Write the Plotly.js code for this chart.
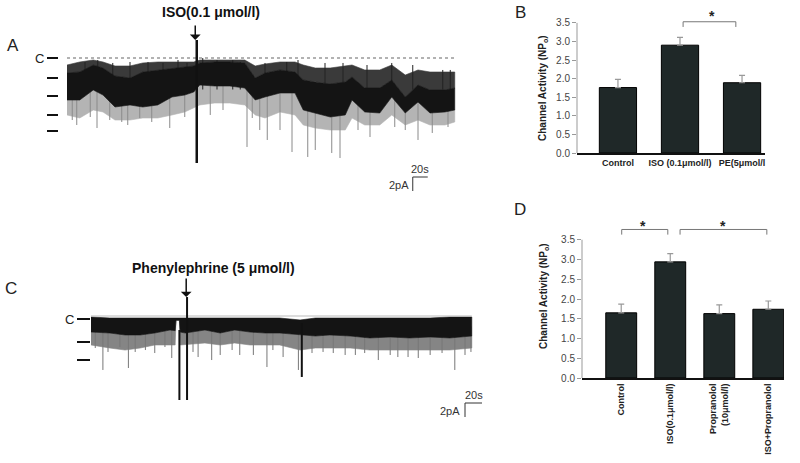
<!DOCTYPE html>
<html><head><meta charset="utf-8">
<script src="https://cdn.plot.ly/plotly-3.0.1.min.js"></script>
<style>html,body{margin:0;padding:0;background:#fff}#chart{width:800px;height:463px}</style>
</head><body><div id="chart"></div>
<script>
// ---------- Panel B data ----------
const bCats = ['Control', 'ISO (0.1μmol/l)', 'PE(5μmol/l'];
const bVals = [1.76, 2.90, 1.89];
const bErr  = [0.22, 0.21, 0.20];
// ---------- Panel D data ----------
const dCats = ['Control', 'ISO(0.1μmol/l)', 'Propranolol<br>(10μmol/l)', 'ISO+Propranolol'];
const dVals = [1.65, 2.94, 1.63, 1.74];
const dErr  = [0.22, 0.21, 0.22, 0.21];
const yTicks = [0, 0.5, 1.0, 1.5, 2.0, 2.5, 3.0, 3.5];
const yTickText = ['0.0','0.5','1.0','1.5','2.0','2.5','3.0','3.5'];

// ---------- Panel A recording (time s, current pA) ----------
const aT       = [0,17,35,48,64,84,101,121,140,157,169,177,197,217,237,251,264,284,304,315,331,351,371,380,397,417,433,451,468,484,504,517];
const aCoreTop = [-2.14,-2.0,-1.0,-1.43,-2.57,-2.86,-2.0,-1.71,-1.43,-1.29,-1.14,-0.71,-0.57,-0.57,-0.71,-2.86,-2.14,-1.71,-2.0,-3.14,-3.43,-3.71,-3.43,-2.71,-4.29,-4.29,-3.14,-5.57,-3.86,-4.57,-4.57,-4.29];
const aCoreBot = [-6.0,-6.0,-4.57,-5.29,-7.0,-6.71,-7.0,-6.71,-5.57,-5.29,-4.86,-3.86,-4.0,-4.0,-4.29,-6.0,-5.57,-5.0,-5.0,-7.43,-7.86,-8.43,-8.14,-6.0,-7.71,-7.86,-5.57,-7.86,-6.29,-7.86,-7.71,-7.43];
const aOutTop  = [-1.0,-0.57,-0.29,-0.57,-1.14,-1.14,-0.71,-0.57,-0.57,-0.57,-0.57,-0.29,-0.29,-0.29,-0.29,-1.14,-0.86,-0.57,-0.57,-1.0,-1.43,-1.43,-1.14,-1.0,-1.71,-1.71,-1.0,-2.43,-1.71,-2.0,-2.0,-2.0];
const aOutBot  = [-8.14,-8.57,-7.43,-7.71,-8.86,-8.86,-8.57,-8.57,-8.14,-7.71,-7.14,-6.71,-6.43,-6.43,-6.71,-8.14,-8.57,-7.71,-8.14,-9.57,-10.0,-10.29,-10.29,-8.57,-9.57,-9.57,-8.14,-9.57,-8.86,-9.57,-9.57,-9.14];
const aUpT   = [24,41,61,84,108,128,148,160,181,200,221,231,264,293,308,344,368,400,433,461,501,511];
const aUpI   = [-0.57,-0.29,-0.71,-0.57,-0.57,-0.71,-0.29,-0.71,0,-0.29,-0.29,-0.57,-0.71,-0.57,-0.29,-0.71,-0.71,-1.0,-0.71,-1.0,-1.71,-1.71];
const aDownT = [7,13,31,40,57,73,81,97,113,137,157,191,208,240,247,257,267,284,300,321,331,353,364,388,404,437,451,468,487,508];
const aDownI = [-8.86,-9.57,-8.43,-10.0,-8.86,-9.14,-9.57,-8.57,-9.14,-10.0,-8.43,-8.14,-7.43,-12.71,-8.57,-10.29,-11.71,-10.29,-13.43,-14.14,-13.14,-13.57,-14.29,-10.29,-11.29,-9.86,-10.29,-11.71,-10.71,-9.86];
const aEvent = {t: 173, top: 2.57, bottom: -15.0};
const aLevels = [0, -2.86, -5.43, -8.14, -10.43];
const aLevelText = ['C', '', '', '', ''];
const aDuration = 520;

// ---------- Panel C recording ----------
const cT       = [0,22,40,58,75,93,99,100,104,105,111,134,152,169,187,205,222,246,264,281,305,328,352,375,399,422,448];
const cCoreTop = [-0.14,-0.29,-0.29,-0.29,-0.29,-0.29,-0.29,-0.29,-0.29,-0.29,-0.29,-0.29,-0.29,-0.29,-0.29,-0.29,-0.29,-0.57,-0.29,-0.29,-0.29,-0.29,-0.29,-0.29,-0.29,-0.14,-0.14];
const cCoreBot = [-2.29,-2.43,-2.71,-2.71,-2.43,-2.0,-2.1,-0.6,-0.6,-2.3,-2.43,-2.0,-2.43,-2.0,-2.29,-2.43,-2.43,-2.71,-2.86,-2.71,-2.86,-3.14,-3.0,-3.14,-3.0,-3.14,-2.86];
const cOutBot  = [-4.14,-4.57,-4.86,-4.57,-4.14,-4.14,-4.14,-0.6,-0.6,-4.14,-4.14,-3.86,-4.14,-3.86,-4.14,-4.14,-4.14,-4.86,-4.57,-4.57,-4.57,-4.86,-4.86,-4.86,-4.86,-4.86,-4.57];
const cDownT = [5,14,20,34,44,52,64,75,87,95,120,126,142,152,166,175,191,207,214,226,244,260,273,285,299,311,322,338,352,361,373,385,399,413,428,440,447];
const cDownI = [-4.57,-7.71,-5.14,-4.43,-7.43,-5.14,-4.86,-5.29,-4.43,-6.0,-5.14,-5.86,-6.29,-5.57,-4.86,-5.57,-5.57,-7.29,-4.86,-5.86,-7.71,-5.29,-5.14,-5.29,-5.57,-5.57,-5.29,-6.29,-5.57,-5.86,-5.86,-6.0,-5.57,-5.29,-7.71,-5.57,-5.14];
const cBigT   = [104, 113, 248];
const cBigTop = [-2.0, 2.71, -1.0];
const cBigBot = [-12.0, -12.0, -8.71];
const cLevels = [-0.43, -3.71, -6.29];
const cLevelText = ['C', '', ''];
const cDuration = 448;

// scale bars
const scaleT = 20;   // s
const scaleI = 2;    // pA

// ---------- helpers ----------
const W = 800, H = 463;
const fx = p => p / W;
const fy = p => 1 - p / H;
const FONT = 'Arial, "Liberation Sans", Helvetica, sans-serif';

function band(t, top, bot) {
  return {x: t.concat(t.slice().reverse()), y: top.concat(bot.slice().reverse())};
}
function spikes(t, ends, start) {
  const x = [], y = [];
  t.forEach((v, i) => { x.push(v, v, null); y.push(start, ends[i], null); });
  return {x, y};
}
function spikes2(t, tops, bots) {
  const x = [], y = [];
  t.forEach((v, i) => { x.push(v, v, null); y.push(tops[i], bots[i], null); });
  return {x, y};
}
function fillBand(b, color, xa, ya) {
  return {type:'scatter', mode:'lines', x:b.x, y:b.y, fill:'toself', fillcolor:color, line:{width:0.6, color:color}, xaxis:xa, yaxis:ya, hoverinfo:'none'};
}

const traces = [];
// Panel B bars
traces.push({
  type: 'bar', x: [0,1,2], y: bVals, width: 0.6, xaxis: 'x', yaxis: 'y',
  marker: {color: '#1f2828', line: {color: '#000', width: 1}},
  error_y: {type: 'data', symmetric: false, array: bErr, arrayminus: bErr.map(() => 0), color: '#999', thickness: 1.2, width: 3},
  hoverinfo: 'none'
});
// Panel D bars
traces.push({
  type: 'bar', x: [0,1,2,3], y: dVals, width: 0.63, xaxis: 'x2', yaxis: 'y2',
  marker: {color: '#1f2828', line: {color: '#000', width: 1}},
  error_y: {type: 'data', symmetric: false, array: dErr, arrayminus: dErr.map(() => 0), color: '#999', thickness: 1.2, width: 3},
  hoverinfo: 'none'
});

// Panel A recording
traces.push(fillBand(band(aT, aCoreBot, aOutBot), '#b4b4b4', 'x3', 'y3'));
const aDn = spikes(aDownT, aDownI, -3.5);
traces.push({type:'scatter', mode:'lines', x:aDn.x, y:aDn.y, line:{color:'#8a8a8a', width:1}, xaxis:'x3', yaxis:'y3', hoverinfo:'none'});
traces.push(fillBand(band(aT, aOutTop, aCoreTop), '#3a3a3a', 'x3', 'y3'));
const aUp = spikes(aUpT, aUpI, -4.5);
traces.push({type:'scatter', mode:'lines', x:aUp.x, y:aUp.y, line:{color:'#222', width:1}, xaxis:'x3', yaxis:'y3', hoverinfo:'none'});
traces.push(fillBand(band(aT, aCoreTop, aCoreBot), '#141414', 'x3', 'y3'));
traces.push({type:'scatter', mode:'lines', x:[0, aDuration], y:[0, 0], line:{color:'#999', width:1.4, dash:'dot'}, xaxis:'x3', yaxis:'y3', hoverinfo:'none'});
traces.push({type:'scatter', mode:'lines', x:[aEvent.t, aEvent.t], y:[aEvent.top, aEvent.bottom], line:{color:'#111', width:2.5}, xaxis:'x3', yaxis:'y3', hoverinfo:'none'});
// scale bar A
const sbA = {t0: 461, i0: -17};
traces.push({type:'scatter', mode:'lines', x:[sbA.t0 + scaleT, sbA.t0, sbA.t0], y:[sbA.i0, sbA.i0, sbA.i0 - scaleI], line:{color:'#333', width:1}, xaxis:'x3', yaxis:'y3', hoverinfo:'none'});

// Panel C recording
traces.push(fillBand(band(cT, cCoreBot, cOutBot), '#858585', 'x4', 'y4'));
const cDn = spikes(cDownT, cDownI, -1.5);
traces.push({type:'scatter', mode:'lines', x:cDn.x, y:cDn.y, line:{color:'#777', width:1}, xaxis:'x4', yaxis:'y4', hoverinfo:'none'});
traces.push(fillBand(band(cT, cCoreTop, cCoreBot), '#141414', 'x4', 'y4'));
traces.push({type:'scatter', mode:'lines', x:[0, cDuration], y:[0, 0], line:{color:'#bbb', width:1.2}, xaxis:'x4', yaxis:'y4', hoverinfo:'none'});
const cBig = spikes2(cBigT, cBigTop, cBigBot);
traces.push({type:'scatter', mode:'lines', x:cBig.x, y:cBig.y, line:{color:'#111', width:2}, xaxis:'x4', yaxis:'y4', hoverinfo:'none'});
const sbC = {t0: 440, i0: -12.43};
traces.push({type:'scatter', mode:'lines', x:[sbC.t0 + scaleT, sbC.t0, sbC.t0], y:[sbC.i0, sbC.i0, sbC.i0 - scaleI], line:{color:'#333', width:1}, xaxis:'x4', yaxis:'y4', hoverinfo:'none'});

const tickFontBold = {family: FONT, size: 9, color: '#222', weight: 'bold'};
const yTickFont = {family: FONT, size: 10, color: '#444'};
const cx = (x, y, text, font, extra) => Object.assign({xref:'paper', yref:'paper', x:fx(x), y:fy(y), xanchor:'center', yanchor:'middle', text, showarrow:false, font}, extra || {});
const cRangeExt = (466 + 20 * 0.85 + 8 - 91) / 0.85;  // x-range of panel C extended to hold the scale bar

const layout = {
  width: W, height: H, margin: {l:0, r:0, t:0, b:0},
  paper_bgcolor: '#fff', plot_bgcolor: 'rgba(0,0,0,0)',
  showlegend: false, bargap: 0,
  xaxis: {domain:[fx(577), fx(765)], range:[-0.66, 2.37], anchor:'y', tickvals:[0,1,2], ticktext:bCats,
          showline:true, linecolor:'#111', linewidth:2, ticks:'', showgrid:false, zeroline:false, tickfont:tickFontBold},
  yaxis: {domain:[fy(153), fy(8)], range:[0, 3.9], anchor:'x', tickvals:yTicks, ticktext:yTickText,
          ticks:'outside', ticklen:4, tickcolor:'#999', showline:false, showgrid:false, zeroline:false, tickfont:yTickFont},
  xaxis2: {domain:[fx(582), fx(784)], range:[-0.8, 3.32], anchor:'y2', tickvals:[0,1,2,3], ticktext:dCats, tickangle:-90,
          showline:true, linecolor:'#111', linewidth:2, ticks:'', showgrid:false, zeroline:false, tickfont:tickFontBold},
  yaxis2: {domain:[fy(378), fy(220)], range:[0, 4.0], anchor:'x2', tickvals:yTicks, ticktext:yTickText,
          ticks:'outside', ticklen:4, tickcolor:'#999', showline:false, showgrid:false, zeroline:false, tickfont:yTickFont},
  xaxis3: {domain:[fx(67), fx(457)], range:[0, aDuration], anchor:'y3', visible:false},
  yaxis3: {domain:[fy(198), fy(30)], range:[-20, 4], anchor:'free', position:fx(58), tickvals:aLevels, ticktext:aLevelText,
          ticks:'outside', ticklen:11, tickwidth:1.5, tickcolor:'#111', showline:false, showgrid:false, zeroline:false,
          tickfont:{family:FONT, size:13, color:'#222'}},
  xaxis4: {domain:[fx(91), fx(91 + cRangeExt * 0.85)], range:[0, cRangeExt], anchor:'y4', visible:false},
  yaxis4: {domain:[fy(421), fy(281)], range:[-15, 5], anchor:'free', position:fx(90), tickvals:cLevels, ticktext:cLevelText,
          ticks:'outside', ticklen:13, tickwidth:1.5, tickcolor:'#111', showline:false, showgrid:false, zeroline:false,
          tickfont:{family:FONT, size:13, color:'#222'}},
  shapes: [
    {type:'line', xref:'x domain', yref:'y', x0:0, x1:0, y0:0, y1:3.5, line:{color:'#999', width:1}},
    {type:'line', xref:'x2 domain', yref:'y2', x0:0, x1:0, y0:0, y1:3.5, line:{color:'#999', width:1}},
    {type:'path', xref:'x', yref:'y', path:'M 1.05 3.39 L 1.05 3.53 L 1.90 3.53 L 1.90 3.39', line:{color:'#777', width:1}},
    {type:'path', xref:'x2', yref:'y2', path:'M 0.01 3.63 L 0.01 3.76 L 0.95 3.76 L 0.95 3.63', line:{color:'#777', width:1}},
    {type:'path', xref:'x2', yref:'y2', path:'M 1.2 3.63 L 1.2 3.76 L 2.97 3.76 L 2.97 3.63', line:{color:'#777', width:1}}
  ],
  annotations: [
    cx(543, 88, 'Channel Activity (NP<sub>o</sub>)', {family:FONT, size:10, color:'#222', weight:'bold'}, {textangle:-90}),
    cx(544, 296, 'Channel Activity (NP<sub>o</sub>)', {family:FONT, size:10, color:'#222', weight:'bold'}, {textangle:-90}),
    {xref:'x', yref:'y', x:1.51, y:3.68, xanchor:'center', yanchor:'middle', text:'*', showarrow:false, font:{family:FONT, size:14, color:'#222', weight:'bold'}},
    {xref:'x2', yref:'y2', x:0.45, y:3.86, xanchor:'center', yanchor:'middle', text:'*', showarrow:false, font:{family:FONT, size:14, color:'#222', weight:'bold'}},
    {xref:'x2', yref:'y2', x:2.08, y:3.86, xanchor:'center', yanchor:'middle', text:'*', showarrow:false, font:{family:FONT, size:14, color:'#222', weight:'bold'}},
    // panel letters
    cx(13, 45, 'A', {family:FONT, size:17, color:'#222'}),
    cx(520, 12, 'B', {family:FONT, size:17, color:'#222'}),
    cx(11, 288, 'C', {family:FONT, size:17, color:'#222'}),
    cx(520, 209, 'D', {family:FONT, size:17, color:'#222'}),
    // drug labels and arrows
    cx(211, 12, 'ISO(0.1 μmol/l)', {family:FONT, size:14, color:'#111', weight:'bold'}),
    {xref:'x3', yref:'y3', x:aEvent.t - 2, y:aEvent.top, text:'', showarrow:true, arrowhead:1, arrowsize:1.2, arrowwidth:1.5, arrowcolor:'#111', ax:0, ay:-16},
    cx(213, 268, 'Phenylephrine (5 μmol/l)', {family:FONT, size:14, color:'#111', weight:'bold'}),
    {xref:'x4', yref:'y4', x:cBigT[1] - 1, y:cBigTop[1], text:'', showarrow:true, arrowhead:1, arrowsize:1.2, arrowwidth:1.5, arrowcolor:'#111', ax:0, ay:-20},
    // scale bar labels
    {xref:'x3', yref:'y3', x:sbA.t0 + scaleT/2, y:sbA.i0, xanchor:'center', yanchor:'bottom', text:'20s', showarrow:false, font:{family:FONT, size:11, color:'#333'}},
    {xref:'x3', yref:'y3', x:sbA.t0 - 3, y:sbA.i0 - scaleI*0.55, xanchor:'right', yanchor:'middle', text:'2pA', showarrow:false, font:{family:FONT, size:11, color:'#333'}},
    {xref:'x4', yref:'y4', x:sbC.t0 + scaleT/2, y:sbC.i0, xanchor:'center', yanchor:'bottom', text:'20s', showarrow:false, font:{family:FONT, size:11, color:'#333'}},
    {xref:'x4', yref:'y4', x:sbC.t0 - 3, y:sbC.i0 - scaleI*0.55, xanchor:'right', yanchor:'middle', text:'2pA', showarrow:false, font:{family:FONT, size:11, color:'#333'}}
  ]
};

Plotly.newPlot('chart', traces, layout, {staticPlot:true, displayModeBar:false});
</script>
</body></html>
